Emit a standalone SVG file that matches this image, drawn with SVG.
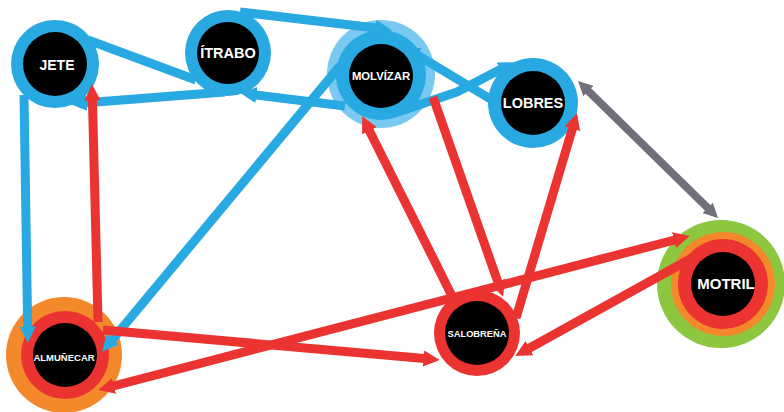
<svg xmlns="http://www.w3.org/2000/svg" width="784" height="412" viewBox="0 0 784 412">
<style>
.lbl{font-family:"Liberation Sans",Arial,sans-serif;font-weight:bold;fill:#ffffff;text-anchor:middle}
.core{fill:#000000}
.ringB{fill:#29a9e1}
.ringR{fill:#eb3431}
.halo{fill:#79c9f0}
.orange{fill:#f3892b}
.green{fill:#8dc63f}
.eb{fill:none;stroke:#29a9e1;stroke-width:9;stroke-linejoin:round}
.er{fill:none;stroke:#eb3431;stroke-width:9;stroke-linejoin:round}
.eg{fill:none;stroke:#6f707a;stroke-width:8}
</style>
<defs>
<marker id="aB" viewBox="0 0 10 10" refX="4" refY="5" markerWidth="1.8" markerHeight="1.8" orient="auto-start-reverse" markerUnits="strokeWidth"><path d="M0,0 L10,5 L0,10 z" fill="#29a9e1"/></marker>
<marker id="aR" viewBox="0 0 10 10" refX="4" refY="5" markerWidth="1.8" markerHeight="1.8" orient="auto-start-reverse" markerUnits="strokeWidth"><path d="M0,0 L10,5 L0,10 z" fill="#eb3431"/></marker>
<marker id="aG" viewBox="0 0 10 10" refX="4" refY="5" markerWidth="1.8" markerHeight="1.8" orient="auto-start-reverse" markerUnits="strokeWidth"><path d="M0,0 L10,5 L0,10 z" fill="#6f707a"/></marker>
</defs>
<rect width="784" height="412" fill="#ffffff"/>

<g id="nodes-rings">
<circle class="ringB" cx="55" cy="64" r="44"/>
<circle class="ringB" cx="228" cy="53" r="43"/>
<circle class="halo" cx="381" cy="74" r="54"/>
<circle class="ringB" cx="381" cy="75" r="45"/>
<circle class="ringB" cx="533" cy="103" r="45"/>
<circle class="orange" cx="64" cy="355" r="58"/>
<circle class="ringR" cx="65" cy="355" r="44"/>
<circle class="ringR" cx="477" cy="333" r="43"/>
<circle class="green" cx="721" cy="284" r="64"/>
<circle class="orange" cx="723" cy="284" r="52"/>
<circle class="ringR" cx="723" cy="284" r="45"/>
</g>

<g id="connectors">
<path class="eb" d="M88,40 L196,80"/>
<path class="eb" d="M240,12 L382,28.8" marker-end="url(#aB)"/>
<path class="eb" d="M225,92 L80,103.2" marker-end="url(#aB)"/>
<path class="eb" d="M345,106 L250,94.2" marker-end="url(#aB)"/>
<path class="eb" d="M398,112 L457,92 L506,66.6" marker-end="url(#aB)"/>
<path class="eb" d="M492,100 L412,51.9" marker-end="url(#aB)"/>
<path class="eb" d="M340,66 L108.4,344.3" marker-end="url(#aB)"/>
<path class="eb" d="M24,95 L27.75,333" marker-end="url(#aB)"/>
<path class="er" d="M98,322 L92.3,94" marker-end="url(#aR)"/>
<path class="er" d="M103,330 L430,359.1" marker-end="url(#aR)"/>
<path class="er" d="M107.7,387.5 L680.3,238.5" marker-start="url(#aR)" marker-end="url(#aR)"/>
<path class="er" d="M692,258 L523.8,351.2" marker-end="url(#aR)"/>
<path class="er" d="M455,302 L366.5,124.9" marker-end="url(#aR)"/>
<path class="er" d="M433,97 L499.8,287.5" marker-end="url(#aR)"/>
<path class="er" d="M516,318 L574.2,122.6" marker-end="url(#aR)"/>
<path class="eg" d="M584.2,87 L711.9,212" marker-start="url(#aG)" marker-end="url(#aG)"/>
</g>

<g id="node-jete"><circle class="core" cx="55" cy="64" r="32"/><text class="lbl" x="57" y="70" font-size="14">JETE</text></g>
<g id="node-itrabo"><circle class="core" cx="228" cy="53" r="31"/><text class="lbl" x="228" y="58" font-size="14.5">ÍTRABO</text></g>
<g id="node-molvizar"><circle class="core" cx="381" cy="76" r="32"/><text class="lbl" x="381" y="79.5" font-size="11.3">MOLVÍZAR</text></g>
<g id="node-lobres"><circle class="core" cx="533" cy="103" r="32"/><text class="lbl" x="533" y="108" font-size="14.5">LOBRES</text></g>
<g id="node-almunecar"><circle class="core" cx="65" cy="355" r="32"/><text class="lbl" x="64" y="360.5" font-size="9.5">ALMUÑECAR</text></g>
<g id="node-salobrena"><circle class="core" cx="477" cy="333" r="32"/><text class="lbl" x="477" y="336.5" font-size="9.3">SALOBREÑA</text></g>
<g id="node-motril"><circle class="core" cx="723" cy="284" r="32"/><text class="lbl" x="726" y="289" font-size="15">MOTRIL</text></g>
</svg>
